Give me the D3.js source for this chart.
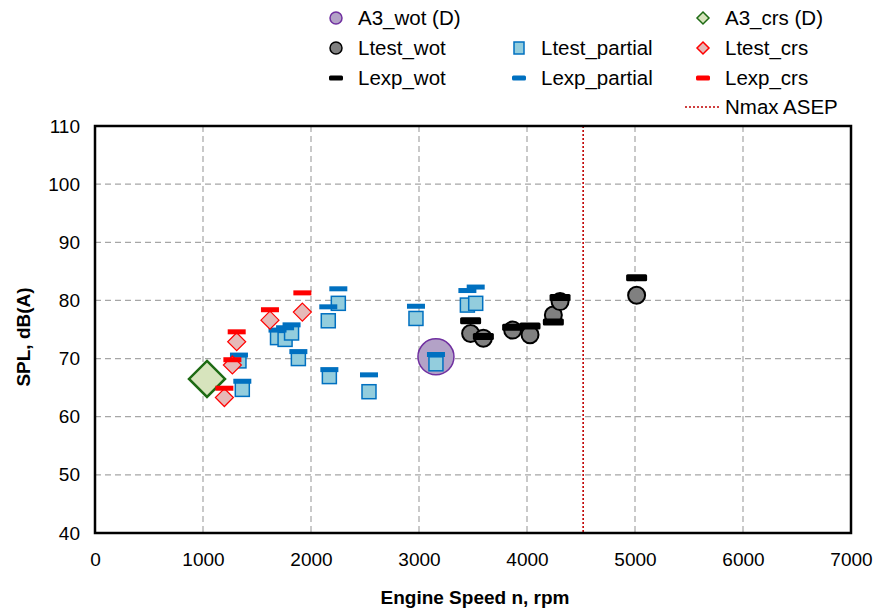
<!DOCTYPE html>
<html>
<head>
<meta charset="utf-8">
<script src="https://cdn.jsdelivr.net/npm/d3@7"></script>
<style>
  body { margin: 0; background: #fff; }
  text { font-family: "Liberation Sans", Arial, sans-serif; fill: #000; }
</style>
</head>
<body>
<svg id="chart" width="875" height="614"></svg>
<script>
// Axis ticks
const xTicks = [0, 1000, 2000, 3000, 4000, 5000, 6000, 7000];
const yTicks = [40, 50, 60, 70, 80, 90, 100, 110];

// Reference points (D)
const a3WotSpeed = [3157];
const a3WotLevel = [70.3];
const a3CrsSpeed = [1037];
const a3CrsLevel = [66.5];

// Wide-open throttle
const wotSpeed = [3478, 3596, 3867, 4028, 4244, 4306, 5015];
const ltestWot = [74.3, 73.5, 74.9, 74.1, 77.5, 79.8, 80.9];
const lexpWot  = [76.5, 73.8, 75.4, 75.6, 76.3, 80.5, 83.9];

// Partial load
const partialSpeed = [1364, 1333, 1690, 1760, 1820, 1883, 2170, 2160, 2253, 2537, 2972, 3448, 3525, 3157];
const ltestPartial = [64.7, 69.6, 73.6, 73.3, 74.4, 70.0, 66.9, 76.5, 79.5, 64.3, 76.9, 79.2, 79.5, 69.1];
const lexpPartial  = [66.1, 70.6, 74.9, 75.3, 75.8, 71.2, 68.1, 78.9, 82.0, 67.2, 79.0, 81.7, 82.3, 70.7];

// Cruise
const crsSpeed = [1198, 1272, 1312, 1620, 1920];
const ltestCrs = [63.3, 68.9, 72.9, 76.6, 78.0];
const lexpCrs  = [64.9, 69.8, 74.6, 78.4, 81.3];

// Maximum engine speed for ASEP
const nmaxAsep = 4520;

const svg = d3.select("#chart");
const x = d3.scaleLinear().domain([0, 7000]).range([95, 851]);
const y = d3.scaleLinear().domain([40, 110]).range([533, 126]);

const pts = (xs, ys) => xs.map((n, i) => ({ n, L: ys[i] }));
const diamond = r => `M0,${-r}L${r},0L0,${r}L${-r},0Z`;

// Grid
const grid = svg.append("g");
grid.selectAll("line.v").data(xTicks.slice(1, -1)).join("line")
  .attr("x1", d => x(d)).attr("x2", d => x(d))
  .attr("y1", y(110)).attr("y2", y(40))
  .attr("stroke", "#a6a6a6").attr("stroke-width", 1.2).attr("stroke-dasharray", "6,4");
grid.selectAll("line.h").data(yTicks.slice(1, -1)).join("line")
  .attr("x1", x(0)).attr("x2", x(7000))
  .attr("y1", d => y(d)).attr("y2", d => y(d))
  .attr("stroke", "#a6a6a6").attr("stroke-width", 1.2).attr("stroke-dasharray", "6,4");

// Nmax ASEP marker line
svg.append("line")
  .attr("x1", x(nmaxAsep)).attr("x2", x(nmaxAsep))
  .attr("y1", y(110)).attr("y2", y(40))
  .attr("stroke", "#c00000").attr("stroke-width", 1.6).attr("stroke-dasharray", "2,2");

// A3_wot (D)
svg.append("g").selectAll("circle").data(pts(a3WotSpeed, a3WotLevel)).join("circle")
  .attr("cx", d => x(d.n)).attr("cy", d => y(d.L)).attr("r", 18)
  .attr("fill", "#b3a2c7").attr("stroke", "#7030a0").attr("stroke-width", 1.5);

// A3_crs (D)
svg.append("g").selectAll("path").data(pts(a3CrsSpeed, a3CrsLevel)).join("path")
  .attr("transform", d => `translate(${x(d.n)},${y(d.L)})`)
  .attr("d", diamond(18))
  .attr("fill", "#d7e4bd").attr("stroke", "#1e6b14").attr("stroke-width", 2.5);

// Ltest_partial
svg.append("g").selectAll("rect").data(pts(partialSpeed, ltestPartial)).join("rect")
  .attr("x", d => x(d.n) - 7).attr("y", d => y(d.L) - 7)
  .attr("width", 14).attr("height", 14)
  .attr("fill", "#93cddd").attr("stroke", "#0070c0").attr("stroke-width", 1.5);

// Lexp_partial
svg.append("g").selectAll("rect").data(pts(partialSpeed, lexpPartial)).join("rect")
  .attr("x", d => x(d.n) - 9).attr("y", d => y(d.L) - 2.5)
  .attr("width", 18).attr("height", 5).attr("fill", "#0070c0");

// Ltest_crs
svg.append("g").selectAll("path").data(pts(crsSpeed, ltestCrs)).join("path")
  .attr("transform", d => `translate(${x(d.n)},${y(d.L)})`)
  .attr("d", diamond(9))
  .attr("fill", "#e6b9b8").attr("stroke", "#ff0000").attr("stroke-width", 1.2);

// Lexp_crs
svg.append("g").selectAll("rect").data(pts(crsSpeed, lexpCrs)).join("rect")
  .attr("x", d => x(d.n) - 9).attr("y", d => y(d.L) - 2.5)
  .attr("width", 18).attr("height", 5).attr("fill", "#ff0000");

// Ltest_wot
svg.append("g").selectAll("circle").data(pts(wotSpeed, ltestWot)).join("circle")
  .attr("cx", d => x(d.n)).attr("cy", d => y(d.L)).attr("r", 8.5)
  .attr("fill", "#808080").attr("stroke", "#000").attr("stroke-width", 2);

// Lexp_wot
svg.append("g").selectAll("rect").data(pts(wotSpeed, lexpWot)).join("rect")
  .attr("x", d => x(d.n) - 10.5).attr("y", d => y(d.L) - 3.5)
  .attr("width", 21).attr("height", 7).attr("rx", 1.5).attr("fill", "#000");

// Plot frame
svg.append("rect")
  .attr("x", x(0)).attr("y", y(110))
  .attr("width", x(7000) - x(0)).attr("height", y(40) - y(110))
  .attr("fill", "none").attr("stroke", "#000").attr("stroke-width", 2.5);

// Axes (labels only; the frame and grid carry the lines)
const xAxis = svg.append("g").attr("transform", `translate(0,${y(40)})`)
  .call(d3.axisBottom(x).tickValues(xTicks).tickSize(0).tickPadding(20).tickFormat(d3.format("d")));
const yAxis = svg.append("g").attr("transform", `translate(${x(0)},0)`)
  .call(d3.axisLeft(y).tickValues(yTicks).tickSize(0).tickPadding(15).tickFormat(d3.format("d")));
[xAxis, yAxis].forEach(a => {
  a.select(".domain").remove();
  a.selectAll("text").attr("font-size", 19).attr("font-family", "Liberation Sans, Arial, sans-serif").attr("fill", "#000");
});

// Axis titles
svg.append("text").attr("x", 475).attr("y", 604).attr("text-anchor", "middle")
  .attr("font-size", 19).attr("font-weight", "bold").text("Engine Speed n, rpm");
svg.append("text").attr("transform", "translate(30,337) rotate(-90)").attr("text-anchor", "middle")
  .attr("font-size", 19).attr("font-weight", "bold").text("SPL, dB(A)");

// Legend
const legend = svg.append("g");
const legendItems = [
  { label: "A3_wot (D)", mx: 336, ty: 18, kind: "circle", fill: "#b3a2c7", stroke: "#7030a0" },
  { label: "A3_crs (D)", mx: 703, ty: 18, kind: "diamond", fill: "#d7e4bd", stroke: "#1e6b14" },
  { label: "Ltest_wot", mx: 336, ty: 48, kind: "circle", fill: "#808080", stroke: "#000" },
  { label: "Ltest_partial", mx: 519, ty: 48, kind: "square", fill: "#93cddd", stroke: "#0070c0" },
  { label: "Ltest_crs", mx: 703, ty: 48, kind: "diamond", fill: "#e6b9b8", stroke: "#ff0000" },
  { label: "Lexp_wot", mx: 336, ty: 78, kind: "dash", fill: "#000" },
  { label: "Lexp_partial", mx: 519, ty: 78, kind: "dash", fill: "#0070c0" },
  { label: "Lexp_crs", mx: 703, ty: 78, kind: "dash", fill: "#ff0000" },
  { label: "Nmax ASEP", mx: 703, ty: 107, kind: "dotted", fill: "#c00000" }
];
legendItems.forEach(it => {
  const g = legend.append("g").attr("transform", `translate(${it.mx},${it.ty})`);
  if (it.kind === "circle") {
    g.append("circle").attr("r", 6).attr("fill", it.fill).attr("stroke", it.stroke).attr("stroke-width", 1.5);
  } else if (it.kind === "diamond") {
    g.append("path").attr("d", diamond(6)).attr("fill", it.fill).attr("stroke", it.stroke).attr("stroke-width", 1.5);
  } else if (it.kind === "square") {
    g.append("rect").attr("x", -5).attr("y", -6).attr("width", 10).attr("height", 12)
      .attr("fill", it.fill).attr("stroke", it.stroke).attr("stroke-width", 1.5);
  } else if (it.kind === "dash") {
    g.append("rect").attr("x", -7).attr("y", -2.5).attr("width", 14).attr("height", 5).attr("rx", 1.5).attr("fill", it.fill);
  } else {
    g.append("line").attr("x1", -18).attr("x2", 17).attr("stroke", it.fill)
      .attr("stroke-width", 1.6).attr("stroke-dasharray", "2,2");
  }
  g.append("text").attr("x", 22).attr("y", 7).attr("font-size", 20.5).text(it.label);
});
</script>
</body>
</html>
